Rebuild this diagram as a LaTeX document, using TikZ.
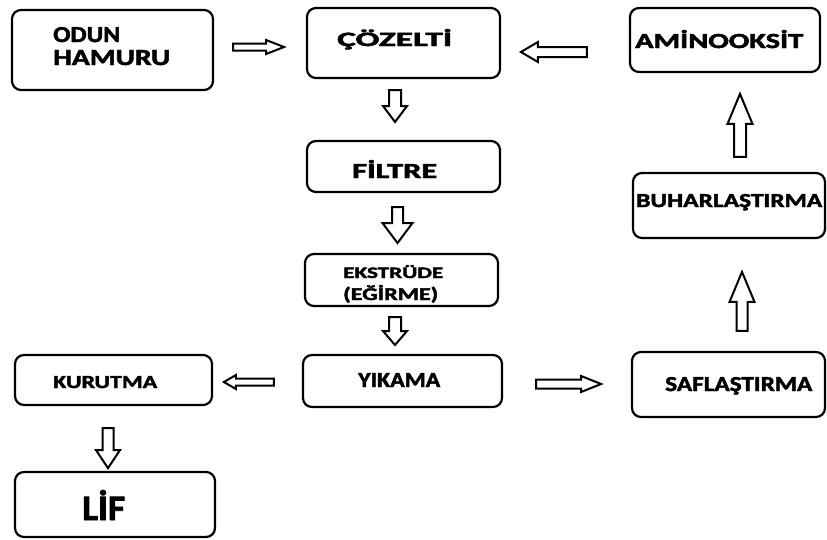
\documentclass[tikz,border=0pt]{standalone}
\usepackage{fontspec}
\setmainfont{Carlito}
\newfontfamily\heavy{Carlito}[BoldFeatures={FakeBold=2}]
\usetikzlibrary{calc}
\tikzset{
  box/.style={draw=black, line width=2.2pt, rounded corners=9pt, inner sep=0pt, fill=white},
  lbl/.style={anchor=base west, inner sep=0pt},
  blk/.style={draw=black, line width=2pt, fill=white, line join=miter}
}
\newcommand{\tx}[3]{\resizebox{#1pt}{#2pt}{\heavy\bfseries #3}}
\newcommand{\barrow}[6]{%
  \begin{scope}[shift={(#1)}, rotate=#2]
    \draw[blk] (0,-#4) -- ({#3-#6},-#4) -- ({#3-#6},-#5) -- (#3,0) -- ({#3-#6},#5) -- ({#3-#6},#4) -- (0,#4) -- cycle;
  \end{scope}}
\begin{document}
\begin{tikzpicture}[x=1pt,y=-1pt]
\useasboundingbox (0,0) rectangle (827,539);
% boxes
\node[box, minimum width=201pt, minimum height=80pt] (odun) at (112.5,50) {};
\node[box, minimum width=193pt, minimum height=70pt] (coz) at (403.5,43) {};
\node[box, minimum width=190pt, minimum height=64pt] (amino) at (725,40) {};
\node[box, minimum width=193pt, minimum height=51pt] (filtre) at (403.5,166.5) {};
\node[box, minimum width=193pt, minimum height=52pt] (ekstr) at (401.5,280) {};
\node[box, minimum width=192pt, minimum height=65pt] (buhar) at (729,205.5) {};
\node[box, minimum width=197pt, minimum height=50pt] (kurut) at (113.5,380) {};
\node[box, minimum width=199pt, minimum height=52pt] (yikama) at (402.5,381) {};
\node[box, minimum width=193pt, minimum height=65pt] (safla) at (728.5,384.5) {};
\node[box, minimum width=200pt, minimum height=65pt] (lif) at (115,504.5) {};
% texts
\node[lbl] (t1) at (53,42) {\tx{67}{15}{ODUN}};
\node[lbl] (t2) at (53,65) {\tx{117}{15}{HAMURU}};
\node[lbl] (t3) at (337,46) {\tx{115}{17}{ÇÖZELTİ}};
\node[lbl] (t4) at (635,48) {\tx{168}{18}{AMİNOOKSİT}};
\node[lbl] (t5) at (352,178) {\tx{85}{18}{FİLTRE}};
\node[lbl] (t6) at (343,278) {\tx{100}{13}{EKSTRÜDE}};
\node[lbl] (t7) at (343,300) {\tx{95}{15}{(EĞİRME)}};
\node[lbl] (t8) at (636,207) {\tx{186}{13}{BUHARLAŞTIRMA}};
\node[lbl] (t9) at (53,388) {\tx{104}{12}{KURUTMA}};
\node[lbl] (t10) at (358,387) {\tx{82}{14}{YIKAMA}};
\node[lbl] (t11) at (665,391) {\tx{147}{14}{SAFLAŞTIRMA}};
\node[lbl] (t12) at (82,520) {\tx{43}{30}{LİF}};
% arrow anchors
\coordinate (a1) at ($(odun.east)+(19,-3)$);
\coordinate (a2) at ($(amino.west)+(-42,12)$);
\coordinate (a3) at (395,90);
\coordinate (a4) at (397.5,207);
\coordinate (a5) at (395,317);
\coordinate (a6) at ($(buhar.north)+(11,-15)$);
\coordinate (a7) at ($(safla.north)+(13.5,-20)$);
\coordinate (a8) at ($(yikama.west)+(-28,1)$);
\coordinate (a9) at ($(yikama.east)+(33,3)$);
\coordinate (a10) at ($(kurut.south)+(-5.5,22)$);
% arrows
\barrow{a1}{0}{51}{3.5}{7}{18}
\barrow{a2}{180}{66}{5}{10}{17}
\barrow{a3}{-90}{32}{6}{12}{16}
\barrow{a4}{-90}{36}{5.5}{15}{20}
\barrow{a5}{-90}{28}{6}{12}{14}
\barrow{a6}{90}{63}{6}{12.5}{30}
\barrow{a7}{90}{59}{5.5}{12.5}{30}
\barrow{a8}{180}{50}{3.5}{7}{12}
\barrow{a9}{0}{65}{4.5}{8}{20}
\barrow{a10}{-90}{40}{5.5}{12}{18}
\end{tikzpicture}
\end{document}
